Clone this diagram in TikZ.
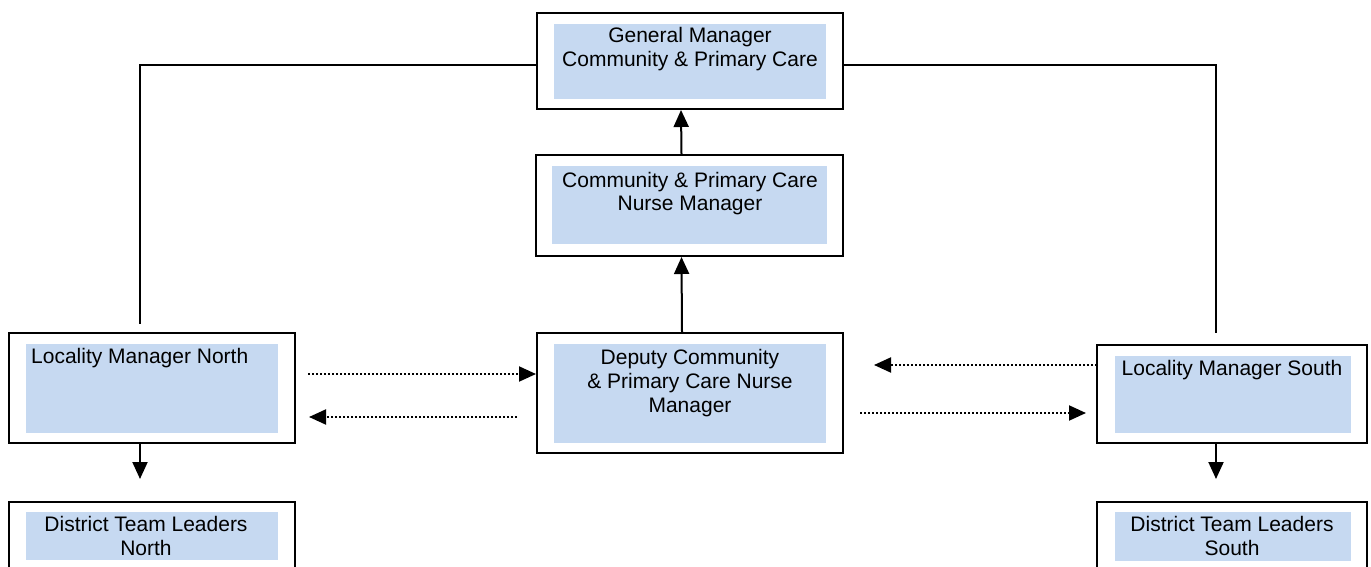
\documentclass[tikz,border=0pt]{standalone}
\usepackage{fontspec}
\setmainfont{Liberation Sans}
\usetikzlibrary{arrows.meta}
\definecolor{boxblue}{RGB}{198,217,241}

\begin{document}
\begin{tikzpicture}[x=1pt,y=-1pt,
	frame/.style={draw, line width=2pt, rectangle, inner sep=0pt},
	txt/.style={inner sep=0pt, font=\fontsize{21}{24}\selectfont, align=center},
	link/.style={line width=2pt},
	arr/.style={link, -{Triangle[length=17pt,width=15pt]}},
	dotarr/.style={line width=2pt, dash pattern=on 1.6pt off 2.4pt, -{Triangle[length=17pt,width=15pt]}}]
		\useasboundingbox (0,0) rectangle (1371,567);
		\clip (0,0) rectangle (1371,567);

		\node[frame, minimum width=306, minimum height=96] (gm) at (690,61) {};
		\node[frame, minimum width=307, minimum height=101] (nm) at (689.5,205.5) {};
		\node[frame, minimum width=306, minimum height=120] (dep) at (690,393) {};
		\node[frame, minimum width=286, minimum height=110] (lmn) at (152,388) {};
		\node[frame, minimum width=270, minimum height=98] (lms) at (1232,394) {};
		\node[frame, minimum width=286, minimum height=88] (dtln) at (152,546) {};
		\node[frame, minimum width=270, minimum height=88] (dtls) at (1232,546) {};

		\fill[boxblue] (554,24) rectangle (826,99);
		\fill[boxblue] (552,166) rectangle (827,244);
		\fill[boxblue] (554,344) rectangle (826,443);
		\fill[boxblue] (26,344) rectangle (278,433);
		\fill[boxblue] (1115,356) rectangle (1351,433);
		\fill[boxblue] (26,512) rectangle (278,560);
		\fill[boxblue] (1115,512) rectangle (1351,561);

		% base = last line of each label
		\node[txt, anchor=base] (gmtext) at (690,67) {General Manager\\Community \& Primary Care};
		\node[txt, anchor=base] (nmtext) at (690,211) {Community \& Primary Care\\Nurse Manager};
		\node[txt, anchor=base] (deptext) at (690,412) {Deputy Community\\\& Primary Care Nurse\\Manager};
		\node[txt, anchor=base west, align=left] (lmntext) at (31,363) {Locality Manager North};
		\node[txt, anchor=base] (lmstext) at (1232,375) {Locality Manager South};
		\node[txt, anchor=base] (dtlntext) at (146,555) {District Team Leaders\\North};
		\node[txt, anchor=base] (dtlstext) at (1232,555) {District Team Leaders\\South};

		\coordinate (ntop) at (140,324);
		\coordinate (stop) at (1216,333);
		\draw[link] ([yshift=-4pt]gm.west) -| (ntop);
		\draw[link] ([yshift=-4pt]gm.east) -| (stop);

		\draw[arr] ([xshift=-8pt]dep.north) -- ([xshift=-8pt]nm.south);
		\draw[arr] ([xshift=-8pt]nm.north) -- ([xshift=-9pt]gm.south);
		\draw[arr] ([xshift=-12pt]lmn.south) -- ([xshift=-12pt,yshift=22pt]dtln.north);
		\draw[arr] ([xshift=-16pt]lms.south) -- ([xshift=-16pt,yshift=22pt]dtls.north);

		\draw[dotarr] ([xshift=12pt,yshift=14pt]lmn.east) -- ([yshift=19pt]dep.west);
		\draw[dotarr] ([xshift=-19pt,yshift=-24pt]dep.west) -- ([xshift=13pt,yshift=-29pt]lmn.east);
		\draw[dotarr] ([xshift=1pt,yshift=29pt]lms.west) -- ([xshift=30pt,yshift=28pt]dep.east);
		\draw[dotarr] ([xshift=16pt,yshift=-20pt]dep.east) -- ([xshift=-10pt,yshift=-19pt]lms.west);
	\end{tikzpicture}
\end{document}
